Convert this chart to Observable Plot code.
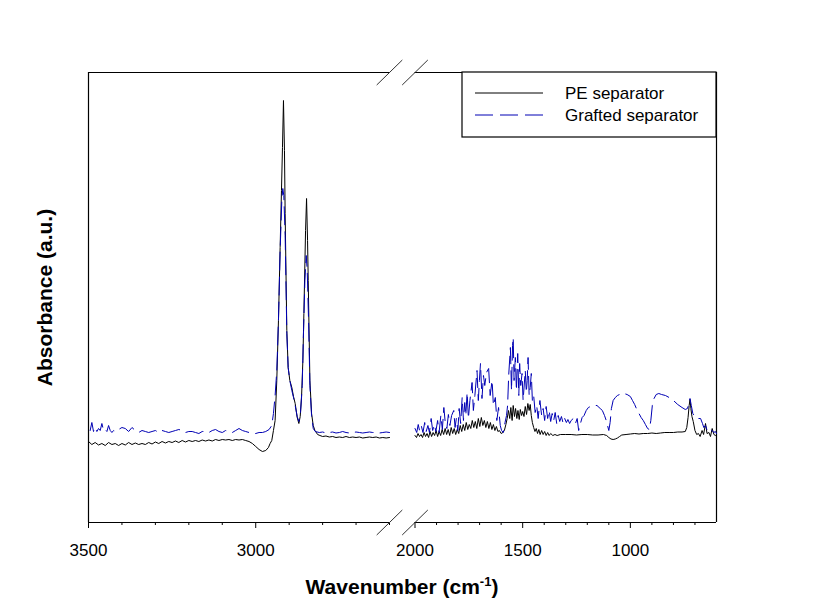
<!DOCTYPE html>
<html><head><meta charset="utf-8">
<script src="https://cdn.jsdelivr.net/npm/d3@7"></script>
<script src="https://cdn.jsdelivr.net/npm/@observablehq/plot@0.6"></script>
<style>html,body{margin:0;padding:0;background:#fff;}</style>
</head><body><div id="chart"></div>
<script>
// ---- data (wavenumber in cm-1, absorbance in arbitrary units) ----
const seriesNames = ["PE separator", "Grafted separator"];
const majorTicks = [3500, 3000, 2000, 1500, 1000];
const minorTicks = [3400, 3300, 3200, 3100, 2900, 2800, 2700, 2600, 1900, 1800, 1700, 1600, 1400, 1300, 1200, 1100, 900, 800, 700];

const peLeftWn = [3500,3490,3480,3470,3460,3450,3440,3430,3420,3410,3400,3390,3380,3370,3360,3350,3340,3330,3320,3310,3300,3290,3280,3270,3260,3250,3240,3230,3220,3210,3200,3190,3180,3170,3160,3150,3140,3130,3120,3110,3100,3090,3080,3070,3060,3050,3040,3030,3020,3010,3000,2990,2980,2970,2962,2957,2952,2947,2942,2937,2932,2927,2923,2920,2917,2914,2912,2907,2903,2898,2892,2887,2882,2876,2871,2867,2863,2859,2856,2851,2848,2845,2843,2838,2833,2828,2823,2815,2808,2800,2790,2780,2770,2760,2750,2740,2730,2720,2710,2700,2690,2680,2670,2660,2650,2640,2630,2620,2610,2600];
const peLeftAbs = [16.2,15.6,16.0,15.5,15.8,15.4,16.0,15.6,15.8,15.4,15.8,15.5,16.0,15.6,15.9,15.6,15.8,15.6,16.0,15.7,16.1,15.8,16.2,15.9,16.2,16.0,16.3,16.0,16.4,16.1,16.4,16.2,16.4,16.2,16.5,16.3,16.5,16.3,16.6,16.4,16.6,16.5,16.6,16.4,16.6,16.5,16.6,16.4,16.2,15.8,15.2,14.6,14.2,14.4,15.0,15.8,16.4,18.4,20.4,28.4,40.4,55.0,66.4,75.0,84.4,74.4,61.8,38.4,31.0,28.4,27.0,25.2,23.8,21.0,19.8,21.2,25.0,32.4,41.8,58.4,64.8,56.4,48.4,28.4,21.8,19.4,18.4,17.6,17.4,17.2,17.3,17.1,17.2,17.0,17.1,17.0,17.2,17.0,17.1,17.0,17.1,16.9,17.0,17.1,17.0,17.1,16.9,17.0,16.9,17.0];

const peRightWn = [2000,1993,1986,1979,1972,1965,1958,1951,1944,1937,1930,1923,1916,1909,1902,1895,1888,1881,1874,1867,1860,1853,1846,1839,1832,1825,1818,1811,1804,1797,1790,1783,1776,1769,1762,1755,1748,1741,1734,1727,1720,1713,1706,1699,1692,1685,1678,1671,1664,1657,1650,1643,1636,1629,1622,1615,1608,1600,1592,1585,1578,1572,1566,1560,1555,1549,1544,1538,1533,1527,1522,1516,1511,1505,1500,1494,1488,1482,1476,1470,1465,1460,1455,1449,1443,1437,1431,1425,1419,1412,1405,1398,1391,1384,1377,1370,1360,1350,1340,1325,1300,1275,1250,1225,1200,1175,1150,1125,1110,1100,1090,1080,1070,1060,1050,1040,1020,1000,980,960,940,920,900,880,860,840,820,800,780,760,745,738,732,727,723,719,714,708,700,692,684,676,667,660,651,644,635,628,620,612,605,600];
const peRightAbs = [17.4,17.0,17.8,17.2,17.6,17.0,18.0,17.2,17.8,17.0,18.2,17.2,18.0,17.4,18.4,17.2,18.2,17.4,18.6,17.6,18.8,17.6,18.6,17.4,19.0,17.8,18.8,17.6,18.6,17.8,19.4,18.2,19.6,18.4,20.0,18.6,19.6,18.8,20.4,19.0,20.2,18.8,20.8,19.2,21.0,19.4,20.4,19.0,20.2,18.8,20.0,18.6,19.6,18.4,19.2,18.2,18.4,17.8,18.0,18.4,19.6,20.8,22.4,20.8,23.0,20.4,23.4,21.2,22.8,20.8,22.4,20.6,22.6,21.4,22.2,21.2,23.2,21.6,23.8,22.4,23.6,21.4,20.0,19.0,18.2,18.8,17.8,18.6,17.6,18.4,17.6,18.2,17.4,18.0,17.4,17.8,17.4,17.6,17.4,17.6,17.6,17.6,17.5,17.6,17.6,17.5,17.5,17.6,17.4,17.0,16.7,16.6,16.7,16.9,17.2,17.5,17.6,17.7,17.8,17.7,17.8,17.8,17.9,17.8,17.9,18.0,18.0,18.0,18.1,18.1,18.2,19.0,21.0,23.4,24.6,22.8,21.2,20.2,18.4,17.6,17.8,17.2,18.4,17.6,19.8,17.8,18.0,17.2,18.8,17.6,17.4,17.6];

const grLeftWn = [3495,3490,3485,3480,3475,3470,3465,3460,3455,3450,3445,3440,3435,3430,3425,3420,3410,3400,3390,3380,3370,3360,3350,3340,3330,3320,3310,3300,3290,3280,3270,3260,3250,3240,3230,3220,3210,3200,3190,3180,3170,3160,3150,3140,3130,3120,3110,3100,3090,3080,3070,3060,3050,3040,3030,3020,3010,3000,2990,2980,2970,2960,2952,2947,2942,2937,2932,2927,2922,2919,2916,2912,2907,2903,2898,2892,2887,2882,2876,2871,2866,2861,2857,2853,2849,2846,2842,2838,2833,2828,2822,2810,2800,2790,2780,2770,2760,2750,2740,2730,2720,2710,2700,2690,2680,2670,2660,2650,2640,2630,2620,2610,2600];
const grLeftAbs = [18.4,20.0,18.2,19.0,18.2,18.8,18.4,19.8,18.4,18.6,18.2,19.4,18.4,18.0,18.4,18.2,18.6,19.0,18.8,18.2,19.0,18.4,18.0,18.4,18.2,18.0,18.2,18.4,18.0,18.4,18.2,18.0,18.2,18.4,18.6,18.4,18.0,18.2,18.2,18.0,17.8,18.2,18.2,18.0,18.4,18.6,18.2,18.0,18.4,18.2,18.0,18.4,18.8,18.4,18.2,18.0,17.8,17.8,18.0,18.0,18.2,18.6,19.4,21.8,25.4,30.4,40.4,54.4,64.4,66.8,65.4,57.4,37.8,31.0,28.4,26.4,25.0,23.4,21.2,20.2,22.0,27.4,38.4,48.4,53.4,50.4,40.4,27.4,21.4,18.8,18.2,18.0,18.1,17.9,18.0,18.1,17.9,18.0,18.2,18.0,17.9,18.0,18.1,18.0,17.9,18.0,18.1,18.0,18.0,17.9,18.0,18.1,18.0];

const grRightWn = [2000,1992,1985,1978,1970,1963,1955,1948,1940,1933,1925,1918,1910,1903,1895,1888,1880,1873,1866,1860,1852,1845,1838,1830,1820,1814,1808,1801,1795,1788,1781,1775,1769,1764,1758,1752,1745,1735,1729,1722,1712,1706,1701,1696,1689,1682,1676,1668,1658,1651,1642,1636,1627,1620,1612,1604,1598,1590,1582,1575,1570,1565,1557,1552,1547,1544,1540,1534,1529,1523,1518,1514,1509,1503,1498,1488,1483,1479,1475,1470,1465,1460,1455,1449,1442,1435,1428,1420,1412,1405,1398,1391,1384,1377,1370,1363,1356,1349,1342,1335,1328,1320,1312,1305,1297,1290,1282,1275,1265,1255,1247,1240,1233,1224,1215,1205,1195,1185,1170,1155,1140,1130,1120,1112,1106,1100,1094,1088,1080,1070,1060,1050,1040,1030,1015,1000,990,980,970,960,950,940,930,920,912,905,898,890,880,868,855,837,820,800,780,760,745,735,728,723,717,710,700,690,674,665,659,651,643,635,625,613,605,600];
const grRightAbs = [18.8,18.0,19.6,18.2,19.2,18.0,20.0,18.2,19.4,18.0,20.8,18.4,19.6,18.2,20.4,18.0,21.4,18.6,23.0,20.2,18.8,21.6,19.4,21.4,22.4,19.0,20.8,18.4,22.8,19.8,25.0,20.4,24.0,21.4,26.0,20.8,24.4,28.0,22.4,25.4,30.4,24.4,28.4,31.8,24.8,29.4,27.4,30.0,30.8,25.4,28.4,23.4,25.0,20.4,23.0,19.4,18.4,18.0,20.0,21.4,23.4,29.4,35.0,26.4,35.4,37.0,28.4,33.0,26.4,33.8,25.4,31.8,27.4,29.8,24.4,30.4,26.0,28.4,33.0,25.4,27.0,29.8,24.4,25.4,22.0,23.4,20.8,24.4,21.4,22.8,20.4,23.2,20.8,22.4,20.2,21.8,20.4,22.0,19.8,21.4,20.2,21.2,19.8,20.8,20.0,20.6,19.8,20.4,20.8,19.8,20.8,18.4,19.6,21.0,21.4,22.4,23.0,23.2,23.4,23.4,22.8,22.4,21.4,20.4,19.4,18.4,20.0,22.8,24.4,25.0,25.4,25.6,25.8,25.8,25.6,25.2,24.4,23.6,22.6,21.8,21.0,20.4,19.6,18.8,18.6,20.4,23.4,24.8,25.6,25.8,25.6,25.4,25.0,24.4,23.6,23.0,22.6,22.8,23.8,24.8,23.4,21.8,21.2,20.8,20.8,19.8,19.0,19.4,18.4,18.2,18.6,18.0,18.2,17.8];

// ---- layout ----
const W = 813, H = 611;
const M = {top: 72, right: 97, bottom: 89, left: 88};
const xDomain = [3500, 2600, 2000, 600];   // broken axis: 3500-2600 | 2000-600
const yDomain = [0, 90];
const panelLeftWidth = 301, breakGap = 25.5;
const xRange = [M.left, M.left + panelLeftWidth, M.left + panelLeftWidth + breakGap, W - M.right];
const FONT = "'Liberation Sans', Arial, Helvetica, sans-serif";
const BLUE = "#0000b4";
const DASH = "18,7";

function rows(wn, ab, series, panel) {
  if (wn.length !== ab.length) throw new Error(series + " " + panel + " length mismatch " + wn.length + " vs " + ab.length);
  return wn.map((w, i) => ({wn: w, a: ab[i], series, panel}));
}
const pe = [...rows(peLeftWn, peLeftAbs, seriesNames[0], "left"), ...rows(peRightWn, peRightAbs, seriesNames[0], "right")];
const gr = [...rows(grLeftWn, grLeftAbs, seriesNames[1], "left"), ...rows(grRightWn, grRightAbs, seriesNames[1], "right")];

// break marks "//" on the top and bottom axes
const slash = {draw(ctx) { ctx.moveTo(-12.8, 12.5); ctx.lineTo(12.8, -12.5); }};
const breaks = [];
for (const x of [xDomain[1], xDomain[2]]) for (const y of yDomain) breaks.push({x, y});

const frameStyle = {stroke: "black", strokeWidth: 1.2};

const chart = Plot.plot({
  width: W, height: H,
  marginTop: M.top, marginRight: M.right, marginBottom: M.bottom, marginLeft: M.left,
  style: {fontFamily: FONT, background: "white", color: "black", overflow: "visible"},
  x: {type: "linear", domain: xDomain, range: xRange, label: null},
  y: {domain: yDomain, axis: null, label: null},
  marks: [
    Plot.ruleX([xDomain[0], xDomain[3]], {y1: yDomain[0], y2: yDomain[1], ...frameStyle}),
    Plot.ruleY(yDomain, {x1: xDomain[0], x2: xDomain[1], ...frameStyle}),
    Plot.ruleY(yDomain, {x1: xDomain[2], x2: xDomain[3], ...frameStyle}),
    Plot.axisX(minorTicks, {anchor: "bottom", tickSize: 3, tickFormat: () => "", label: null, strokeWidth: 1}),
    Plot.axisX(majorTicks, {anchor: "bottom", tickSize: 6, tickPadding: 15, tickFormat: d => String(d), fontSize: 17, label: null, strokeWidth: 1}),
    Plot.line(pe, {x: "wn", y: "a", z: "panel", stroke: "black", strokeWidth: 1}),
    Plot.line(gr, {x: "wn", y: "a", z: "panel", stroke: BLUE, strokeWidth: 1, strokeDasharray: DASH}),
    Plot.dot(breaks, {x: "x", y: "y", symbol: slash, stroke: "#333", strokeWidth: 1, fill: "none"}),
    Plot.text(["Absorbance (a.u.)"], {text: d => d, frameAnchor: "left", textAnchor: "middle", lineAnchor: "middle", rotate: -90, dx: -43, fontWeight: "bold", fontSize: 21})
  ]
});
document.getElementById("chart").appendChild(chart);

// ---- x-axis title with superscript and legend box ----
const sx = chart.scale("x"), sy = chart.scale("y");
const xl = sx.apply(xDomain[0]), xr = sx.apply(xDomain[3]);
const yb = sy.apply(yDomain[0]), yt = sy.apply(yDomain[1]);
const svg = d3.select(chart);

const title = svg.append("text")
  .attr("x", (xl + xr) / 2).attr("y", yb + 72)
  .attr("text-anchor", "middle").attr("font-family", FONT)
  .attr("font-weight", "bold").attr("font-size", 21).attr("fill", "black");
title.append("tspan").text("Wavenumber (cm");
title.append("tspan").attr("font-size", 13).attr("dy", -8).text("-1");
title.append("tspan").attr("dy", 8).text(")");

const legW = 254, legH = 65;
const lg = svg.append("g").attr("font-family", FONT).attr("font-size", 17).attr("text-anchor", "start");
lg.append("rect").attr("x", xr - legW).attr("y", yt).attr("width", legW).attr("height", legH)
  .attr("fill", "white").attr("stroke", "black").attr("stroke-width", 1.2);
const items = [{name: seriesNames[0], stroke: "black", dash: null}, {name: seriesNames[1], stroke: BLUE, dash: DASH}];
items.forEach((it, i) => {
  const cy = yt + 21 + i * 22;
  lg.append("line").attr("x1", xr - legW + 13).attr("x2", xr - legW + 81).attr("y1", cy).attr("y2", cy)
    .attr("stroke", it.stroke).attr("stroke-width", 1).attr("stroke-dasharray", it.dash);
  lg.append("text").attr("x", xr - legW + 103).attr("y", cy).attr("dy", "0.35em")
    .attr("text-anchor", "start").attr("fill", "black").text(it.name);
});
</script>
</body></html>
